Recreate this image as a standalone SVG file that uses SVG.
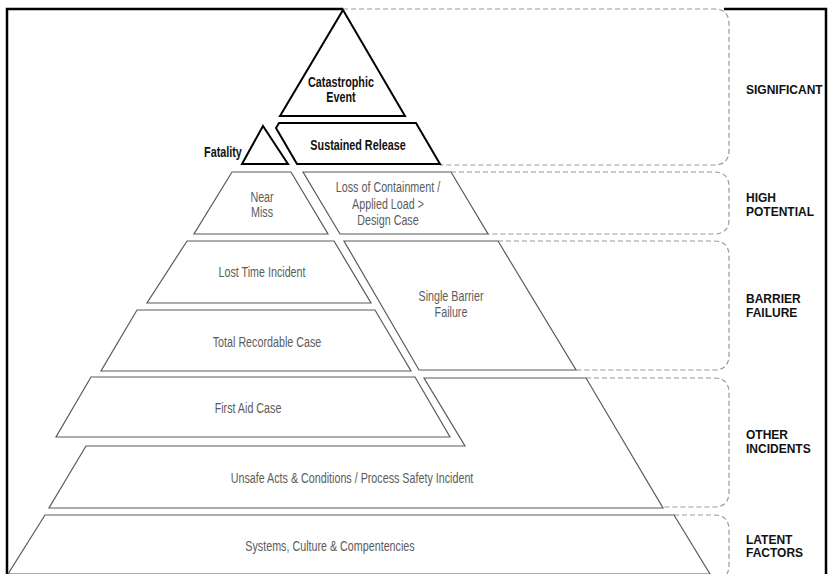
<svg xmlns="http://www.w3.org/2000/svg" width="828" height="574" viewBox="0 0 828 574">
  <style>
    .bg { fill: #ffffff; }
    .frame { fill: none; stroke: #000; stroke-width: 2.5; }
    .lvl { fill: #fff; stroke: #5a5a5a; stroke-width: 1.2; stroke-linejoin: miter; }
    .top { fill: #fff; stroke: #000; stroke-width: 2; stroke-linejoin: miter; }
    .band { fill: none; stroke: #9a9a9a; stroke-width: 1.2; stroke-dasharray: 5 3; }
    /* condensed look: normal sans, squeezed horizontally by each text's transform */
    .t { font-family: "Liberation Sans", Arial, sans-serif; font-size: 14.5px; fill: #5c5c5c; text-anchor: middle; }
    .tb { font-family: "Liberation Sans", Arial, sans-serif; font-size: 15px; font-weight: bold; fill: #111; text-anchor: middle; }
    .cat { font-family: "Liberation Sans", Arial, sans-serif; font-size: 12px; font-weight: bold; fill: #111; }
  </style>
  <rect class="bg" x="0" y="0" width="828" height="574"/>

  <!-- outer frame -->
  <g id="frame">
    <path class="frame" d="M7 574 L7 9 L343 9"/>
    <path class="frame" d="M724 9 L826 9 L826 574"/>
  </g>

  <!-- category brackets -->
  <g id="connectors">
    <path class="band" d="M343 9 L714 9 Q729 9 729 24 L729 150 Q729 165 714 165 L440 165"/>
    <path class="band" d="M451 172 L714 172 Q729 172 729 187 L729 219 Q729 234 714 234 L488 234"/>
    <path class="band" d="M498 241 L714 241 Q729 241 729 256 L729 355 Q729 370 714 370 L576 370"/>
    <path class="band" d="M586 378 L714 378 Q729 378 729 393 L729 492 Q729 507 714 507 L663 507"/>
    <path class="band" d="M674 515 L714 515 Q729 515 729 530 L729 565 Q729 580 714 580"/>
  </g>

  <!-- pyramid levels -->
  <g id="catastrophic-event">
    <polygon class="top" points="343,10 405,116 280,116"/>
    <text class="tb" transform="matrix(0.72 0 0 1 341 87)">Catastrophic</text>
    <text class="tb" transform="matrix(0.72 0 0 1 341 102)">Event</text>
  </g>
  <g id="fatality">
    <polygon class="top" points="263,126 288,164 242,164"/>
    <text class="tb" transform="matrix(0.72 0 0 1 223 157)">Fatality</text>
  </g>
  <g id="sustained-release">
    <path class="top" d="M279 123 L416 123 L440 164 L297 164 L276 128 Z"/>
    <text class="tb" transform="matrix(0.72 0 0 1 358 150)">Sustained Release</text>
  </g>
  <g id="near-miss">
    <polygon class="lvl" points="232,172 291,172 328,234 194,234"/>
    <text class="t" transform="matrix(0.74 0 0 1 262 202)">Near</text>
    <text class="t" transform="matrix(0.74 0 0 1 262 217)">Miss</text>
  </g>
  <g id="loss-of-containment">
    <polygon class="lvl" points="303,172 451,172 488,234 340,234"/>
    <text class="t" transform="matrix(0.74 0 0 1 388 192)">Loss of Containment /</text>
    <text class="t" transform="matrix(0.74 0 0 1 388 209)">Applied Load &gt;</text>
    <text class="t" transform="matrix(0.74 0 0 1 388 225)">Design Case</text>
  </g>
  <g id="lost-time-incident">
    <polygon class="lvl" points="187,241 334,241 371,303 147,303"/>
    <text class="t" transform="matrix(0.74 0 0 1 262 277)">Lost Time Incident</text>
  </g>
  <g id="single-barrier-failure">
    <polygon class="lvl" points="344,241 498,241 576,370 419,370"/>
    <text class="t" transform="matrix(0.74 0 0 1 451 301)">Single Barrier</text>
    <text class="t" transform="matrix(0.74 0 0 1 451 317)">Failure</text>
  </g>
  <g id="total-recordable-case">
    <polygon class="lvl" points="137,310 375,310 411,371 101,371"/>
    <text class="t" transform="matrix(0.74 0 0 1 267 347)">Total Recordable Case</text>
  </g>
  <g id="first-aid-case">
    <polygon class="lvl" points="91,377 415,377 450,437 56,437"/>
    <text class="t" transform="matrix(0.74 0 0 1 248 413)">First Aid Case</text>
  </g>
  <g id="unsafe-acts">
    <polygon class="lvl" points="424,378 586,378 663,508 49,508 86,446 465,446"/>
    <text class="t" transform="matrix(0.74 0 0 1 352 483)">Unsafe Acts &amp; Conditions / Process Safety Incident</text>
  </g>
  <g id="systems-culture">
    <polygon class="lvl" points="45,515 674,515 710,574 8,574"/>
    <text class="t" transform="matrix(0.74 0 0 1 330 551)">Systems, Culture &amp; Compentencies</text>
  </g>

  <!-- category labels -->
  <g id="labels">
    <text class="cat" x="746" y="94">SIGNIFICANT</text>
    <text class="cat" x="746" y="202">HIGH</text>
    <text class="cat" x="746" y="216">POTENTIAL</text>
    <text class="cat" x="746" y="303">BARRIER</text>
    <text class="cat" x="746" y="317">FAILURE</text>
    <text class="cat" x="746" y="439">OTHER</text>
    <text class="cat" x="746" y="453">INCIDENTS</text>
    <text class="cat" x="746" y="544">LATENT</text>
    <text class="cat" x="746" y="557">FACTORS</text>
  </g>
</svg>
